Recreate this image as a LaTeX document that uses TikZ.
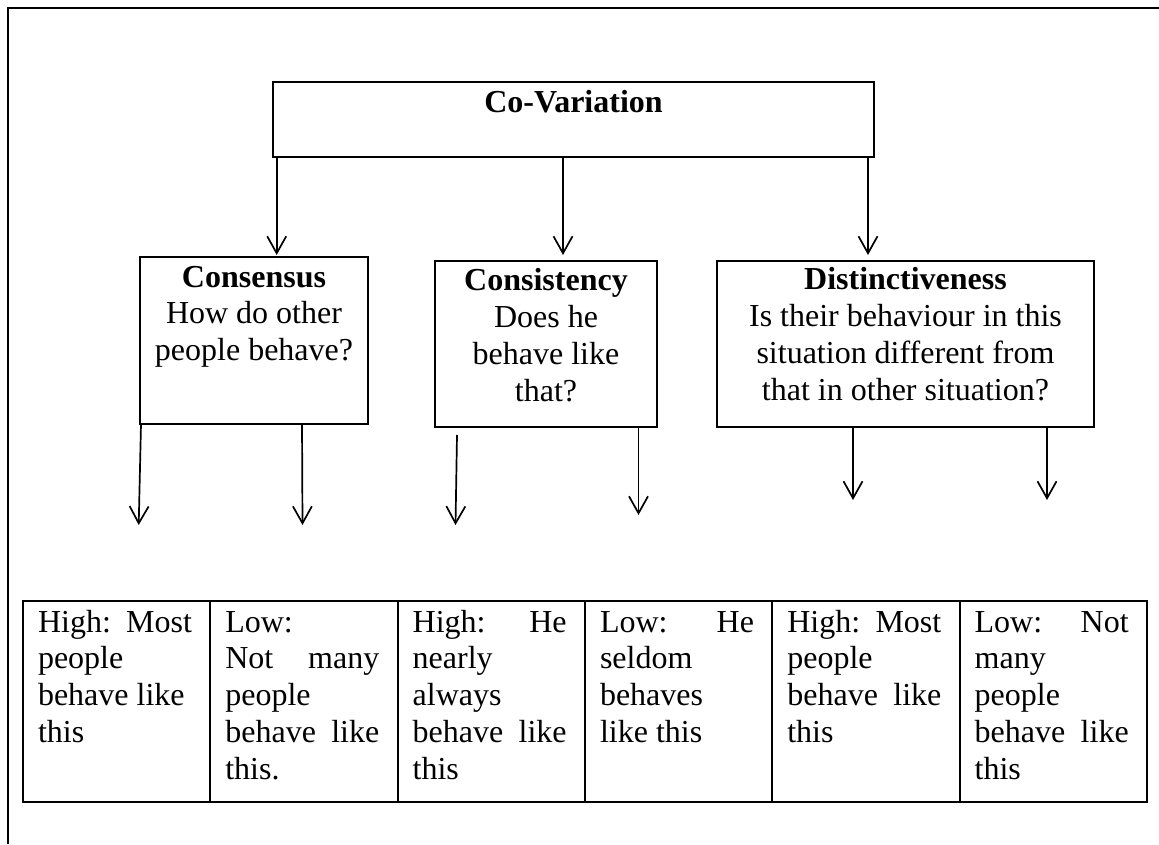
\documentclass[tikz,border=0pt]{standalone}
\usepackage{fontspec}
\setmainfont{Liberation Serif}
\usetikzlibrary{arrows.meta,calc}
\begin{document}
\begin{tikzpicture}[x=0.5pt,y=-0.5pt,
  frame/.style={line width=1pt},
  box/.style={draw, line width=1pt, inner sep=0pt, outer sep=0pt, anchor=north west},
  cell/.style={box, minimum width=93.67pt, minimum height=100.65pt},
  arr/.style={line width=0.85pt, -{Straight Barb[length=8.5pt,width=9.5pt]}},
  txt/.style={inner sep=0pt, outer sep=0pt, font=\fontsize{16}{18.4}\selectfont},
  boxtext/.style={txt, anchor=base, align=flush center, text width=#1},
  celltext/.style={txt, anchor=base west, align=flush left, text width=77pt},
]
\useasboundingbox (0,0) rectangle (1159,844);

% page frame (top and left rules)
\draw[frame] (8,844) -- (8,8) -- (1159,8);

% main boxes
\node[box, minimum width=300.5pt, minimum height=37.5pt] (cv) at (273,82) {};
\node[box, minimum width=114pt, minimum height=83.5pt] (cons) at (140,257) {};
\node[box, minimum width=111pt, minimum height=82.75pt] (consi) at (435,261.5) {};
\node[box, minimum width=188.5pt, minimum height=83pt] (dist) at (717,261) {};

\node[txt, anchor=base] (cvt) at ($(cv.north)+(0,31)$) {\textbf{Co-Variation}};
\node[boxtext=110pt] (const) at ($(cons.north)+(0,30)$)
  {\textbf{Consensus}\\How do other\\people behave?};
\node[boxtext=108pt] (consit) at ($(consi.north)+(0,29.2)$)
  {\textbf{Consistency}\\Does he\\behave like\\that?};
\node[boxtext=185pt] (distt) at ($(dist.north)+(0,29)$)
  {\textbf{Distinctiveness}\\Is their behaviour in this\\situation different from\\that in other situation?};

% arrows from Co-Variation to the three criteria
\draw[arr] ($(cv.south west)+(3.7,0)$) -- ($(cons.north west)+(136.7,-2)$);
\draw[arr] ($(cv.south west)+(290,0)$) -- ($(consi.north west)+(128,-6.5)$);
\draw[arr] ($(cv.south west)+(595,0)$) -- ($(dist.north west)+(151,-6)$);

% free ends of the lower arrows
\coordinate (h1) at (138.7,525);
\coordinate (h2) at (302.5,525);
\coordinate (h3) at (455.5,525);
\coordinate (h4) at (638.5,515);
\coordinate (h5) at (853,500);
\coordinate (h6) at (1047,500);

\draw[arr] ($(cons.south west)+(1,0)$) -- (h1);
\draw[arr] ($(cons.south west)+(162,0)$) -- (h2);
\draw[arr] ($(consi.south west)+(22,8)$) -- (h3);
\draw[arr] ($(consi.south west)+(203.5,0)$) -- (h4);
\draw[arr] ($(dist.south west)+(136,0)$) -- (h5);
\draw[arr] ($(dist.south west)+(330,0)$) -- (h6);

% table of outcomes
\node[cell] (c1) at (23,600.7) {};
\node[cell] (c2) at (210.33,600.7) {};
\node[cell] (c3) at (397.67,600.7) {};
\node[cell] (c4) at (585,600.7) {};
\node[cell] (c5) at (772.33,600.7) {};
\node[cell] (c6) at (959.67,600.7) {};

\node[celltext] (t1) at ($(c1.north west)+(15,31.3)$)
  {High:\hfill Most\\people\\behave like\\this};
\node[celltext] (t2) at ($(c2.north west)+(15,31.3)$)
  {Low:\\Not\hfill many\\people\\behave\hfill like\\this.};
\node[celltext] (t3) at ($(c3.north west)+(15,31.3)$)
  {High:\hfill He\\nearly\\always\\behave\hfill like\\this};
\node[celltext] (t4) at ($(c4.north west)+(15,31.3)$)
  {Low:\hfill He\\seldom\\behaves\\like this};
\node[celltext] (t5) at ($(c5.north west)+(15,31.3)$)
  {High:\hfill Most\\people\\behave\hfill like\\this};
\node[celltext] (t6) at ($(c6.north west)+(15,31.3)$)
  {Low:\hfill Not\\many\\people\\behave\hfill like\\this};
\end{tikzpicture}
\end{document}
